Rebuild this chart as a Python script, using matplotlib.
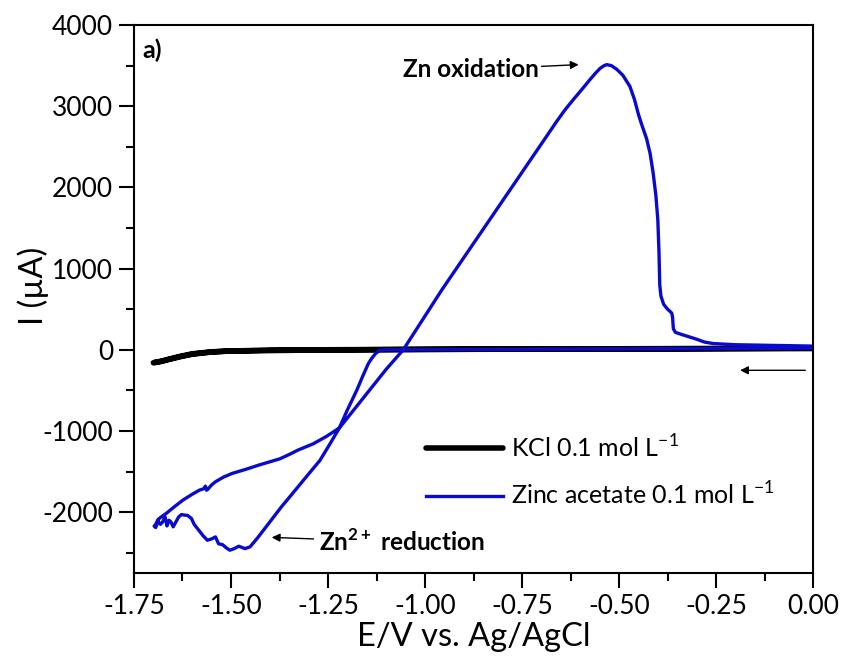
import numpy as np
import matplotlib
matplotlib.use("Agg")
import matplotlib.pyplot as plt
from matplotlib.ticker import MultipleLocator, FormatStrFormatter

plt.rcParams['font.family'] = ['Lato', 'DejaVu Sans']
plt.rcParams['axes.unicode_minus'] = False
plt.rcParams['mathtext.fontset'] = 'custom'
plt.rcParams['mathtext.rm'] = 'Lato'
plt.rcParams['mathtext.bf'] = 'Lato:bold'

# KCl 0.1 mol/L (blank), E in V, I in uA
kcl_E = [0.00, -0.25, -0.50, -0.75, -1.00, -1.25, -1.40, -1.50, -1.55, -1.60,
         -1.63, -1.66, -1.68, -1.70, -1.68, -1.66, -1.63, -1.60, -1.55, -1.50,
         -1.25, -1.00, -0.75, -0.50, -0.25, 0.00]
kcl_I = [15, 12, 10, 8, 5, 0, -5, -15, -25, -50,
         -80, -115, -140, -160, -145, -120, -85, -55, -28, -15,
         -2, 4, 8, 12, 16, 20]

# Zinc acetate 0.1 mol/L: cathodic scan (0 -> -1.70 V) then anodic scan back to 0 V
zn_E = [0.00, -0.25, -0.50, -0.75, -1.00, -1.10, -1.118, -1.128, -1.138, -1.146,
        -1.160, -1.176, -1.200, -1.221, -1.245, -1.271, -1.300, -1.327, -1.350,
        -1.370, -1.392, -1.413, -1.432, -1.451, -1.458, -1.464, -1.480, -1.492,
        -1.503, -1.512, -1.522, -1.532, -1.540, -1.550, -1.561, -1.572, -1.583,
        -1.595, -1.602, -1.612, -1.619, -1.628, -1.635, -1.642, -1.649, -1.655,
        -1.660, -1.665, -1.670, -1.676, -1.682, -1.688, -1.694, -1.698,
        -1.694, -1.688, -1.680, -1.667, -1.645, -1.624, -1.600, -1.581, -1.570,
        -1.566, -1.563, -1.560, -1.550, -1.540, -1.520, -1.497, -1.460, -1.428,
        -1.400, -1.374, -1.350, -1.327, -1.288, -1.255, -1.221, -1.180, -1.140,
        -1.100, -1.056, -0.957, -0.858, -0.773, -0.720, -0.687, -0.661, -0.640,
        -0.618, -0.596, -0.575, -0.560, -0.549, -0.540, -0.532, -0.520, -0.506,
        -0.490, -0.472, -0.460, -0.450, -0.442, -0.429, -0.420, -0.412, -0.405,
        -0.400, -0.397, -0.395, -0.392, -0.385, -0.375, -0.368, -0.364, -0.362,
        -0.360, -0.355, -0.343, -0.320, -0.300, -0.280, -0.257, -0.200, -0.128,
        -0.060, 0.00]
zn_I = [20, 15, 10, 6, 2, 0, -10, -50, -110, -170,
        -320, -500, -740, -965, -1160, -1364, -1530, -1687, -1820,
        -1934, -2070, -2202, -2320, -2428, -2440, -2449, -2420, -2450,
        -2469, -2440, -2400, -2390, -2305, -2330, -2346, -2290, -2222,
        -2150, -2078, -2040, -2037, -2030, -2060, -2120, -2181, -2120,
        -2100, -2170, -2058, -2120, -2150, -2110, -2190, -2173,
        -2150, -2090, -2060, -2016, -1930, -1852, -1780, -1728, -1712,
        -1680, -1730, -1720, -1665, -1626, -1570, -1523, -1470, -1420,
        -1380, -1343, -1290, -1235, -1158, -1070, -965, -720, -480,
        -240, 0, 735, 1428, 2024, 2395, 2627, 2810, 2950,
        3080, 3205, 3327, 3410, 3465, 3495, 3512, 3500, 3455,
        3380, 3244, 3080, 2900, 2780, 2600, 2420, 2175, 1900,
        1600, 1200, 800, 660, 560, 500, 470, 450, 400,
        260, 215, 195, 160, 130, 95, 76, 62, 56,
        50, 45]

fig = plt.figure(figsize=(8.47, 6.63), dpi=100)
ax = fig.add_axes([0.1582, 0.1357, 0.8017, 0.8266])

ax.plot(kcl_E, kcl_I, color='black', lw=4, label='KCl 0.1 mol L$^{-1}$', solid_capstyle='round')
ax.plot(zn_E, zn_I, color='#0a0acd', lw=2.4, label='Zinc acetate 0.1 mol L$^{-1}$')

ax.set_xlim(-1.75, 0.0)
ax.set_ylim(-2750, 4000)
ax.xaxis.set_major_locator(MultipleLocator(0.25))
ax.xaxis.set_minor_locator(MultipleLocator(0.125))
ax.yaxis.set_major_locator(MultipleLocator(1000))
ax.yaxis.set_minor_locator(MultipleLocator(500))
ax.xaxis.set_major_formatter(FormatStrFormatter('%.2f'))
ax.tick_params(which='major', direction='out', length=11, width=1.5, labelsize=19, pad=4)
ax.tick_params(which='minor', direction='out', length=6, width=1.5)
ax.tick_params(top=False, right=False, which='both')
for s in ax.spines.values():
    s.set_linewidth(1.5)

ax.set_xlabel('E/V vs. Ag/AgCl', fontsize=23.5, labelpad=2)
ax.set_ylabel('I (µA)', fontsize=23.5)
ax.yaxis.set_label_coords(-0.125, 0.524)

ax.text(-1.729, 3690, 'a)', fontsize=18, fontweight='bold', va='center', ha='left')

ax.annotate('Zn oxidation', xy=(-0.604, 3512), xytext=(-1.057, 3450),
            fontsize=17.5, fontweight='bold', va='center', ha='left',
            arrowprops=dict(arrowstyle='-|>', color='black', lw=1, mutation_scale=12,
                            shrinkA=0, shrinkB=0))
ax.annotate('Zn$^{\\mathbf{2+}}$ reduction', xy=(-1.395, -2311), xytext=(-1.273, -2370),
            fontsize=17.5, fontweight='bold', va='center', ha='left',
            arrowprops=dict(arrowstyle='-|>', color='black', lw=1, mutation_scale=12,
                            shrinkA=2, shrinkB=0))
ax.annotate('', xy=(-0.188, -253), xytext=(-0.02, -253),
            arrowprops=dict(arrowstyle='-|>', color='black', lw=1, mutation_scale=12,
                            shrinkA=0, shrinkB=0))

ax.legend(loc='upper left', bbox_to_anchor=(0.415, 0.272), frameon=False, fontsize=18,
          handlelength=3.1, handletextpad=0.3, labelspacing=0.8, borderaxespad=0)

fig.savefig('out.png', dpi=100)
